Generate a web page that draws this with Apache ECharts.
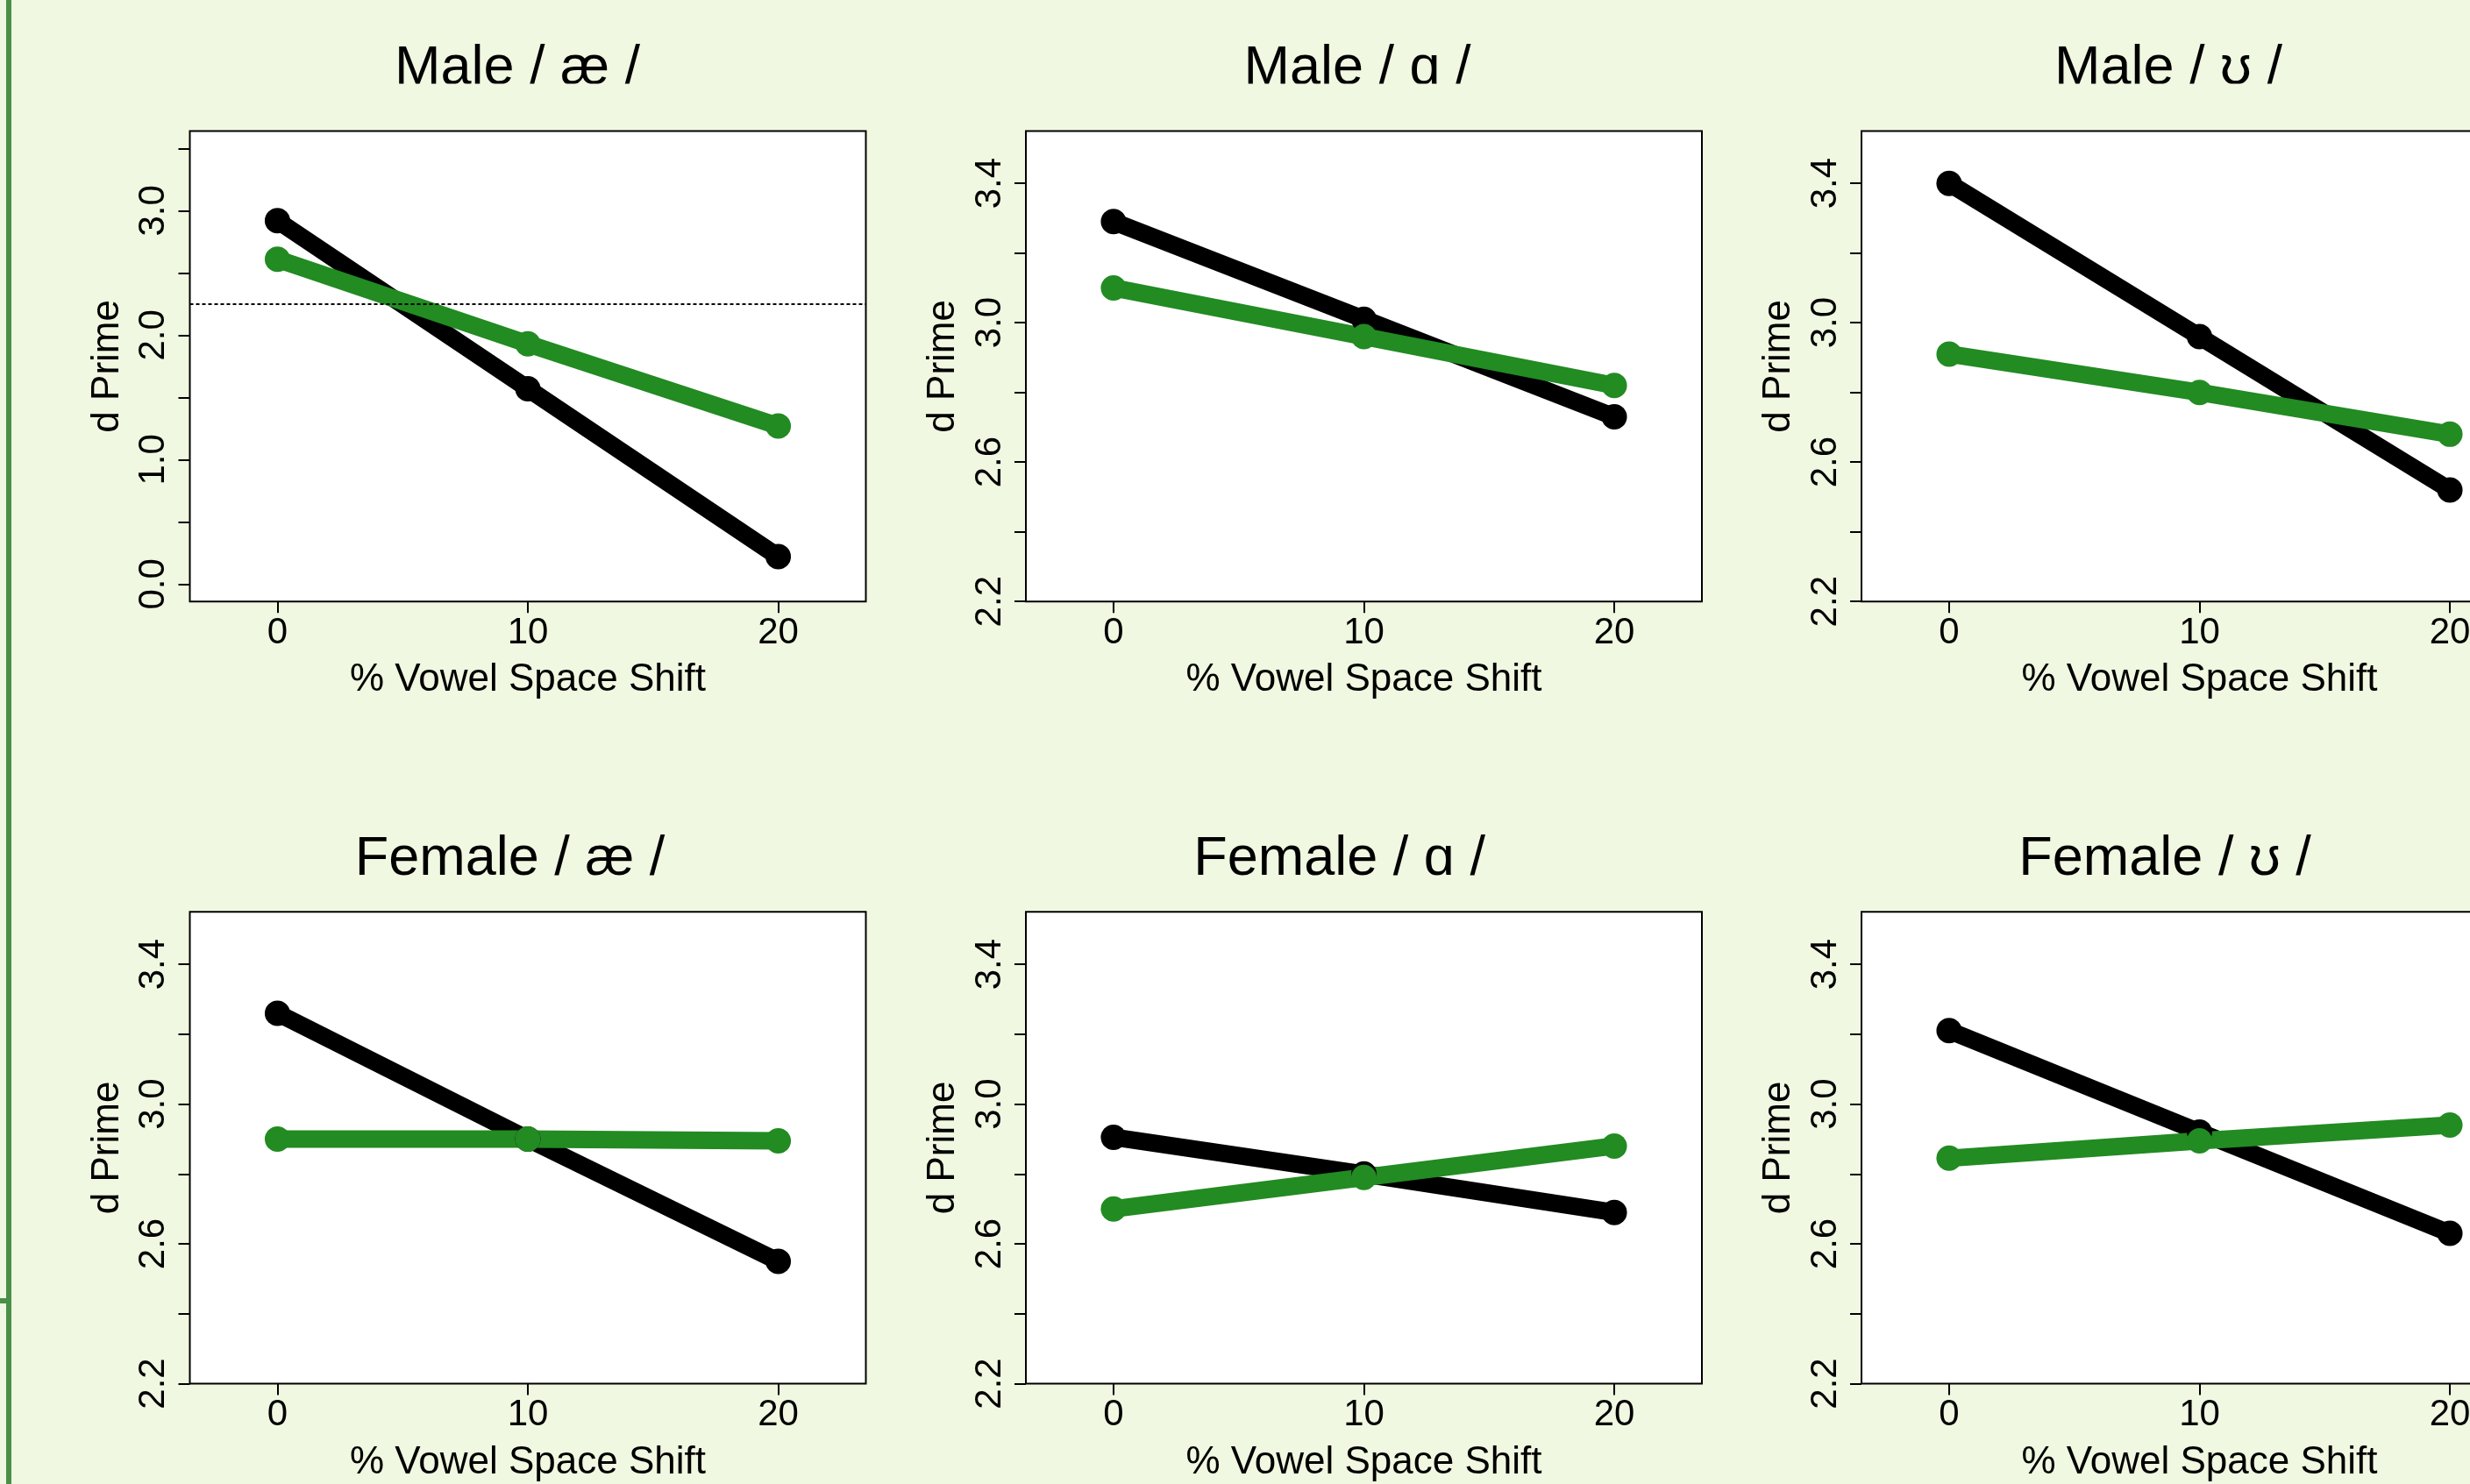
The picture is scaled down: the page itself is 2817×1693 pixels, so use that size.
<!DOCTYPE html>
<html>
<head>
<meta charset="utf-8">
<script src="https://cdn.jsdelivr.net/npm/echarts@6/dist/echarts.min.js"></script>
<style>
html,body{margin:0;padding:0;background:#F0F8E1;}
#c{width:2817px;height:1693px;}
</style>
</head>
<body>
<div id="c"></div>
<script>
// ---- data ----
const shifts = [0, 10, 20];
const titles = ['Male / æ /', 'Male / ɑ /', 'Male / ʊ /', 'Female / æ /', 'Female / ɑ /', 'Female / ʊ /'];
const maleAeBlack = [2.92, 1.57, 0.22];
const maleAeGreen = [2.61, 1.93, 1.27];
const maleAaBlack = [3.29, 3.01, 2.73];
const maleAaGreen = [3.10, 2.96, 2.82];
const maleUhBlack = [3.40, 2.96, 2.52];
const maleUhGreen = [2.91, 2.80, 2.68];
const femaleAeBlack = [3.26, 2.90, 2.55];
const femaleAeGreen = [2.90, 2.90, 2.895];
const femaleAaBlack = [2.905, 2.80, 2.69];
const femaleAaGreen = [2.70, 2.79, 2.88];
const femaleUhBlack = [3.21, 2.92, 2.63];
const femaleUhGreen = [2.845, 2.895, 2.94];
const referenceLine = 2.25; // dotted line, panel 1
const xTicks = [0, 10, 20];
const yTicksWide = [0, 0.5, 1, 1.5, 2, 2.5, 3, 3.5];
const yLabelsWide = [0, 1, 2, 3];
const yTicksNarrow = [2.2, 2.4, 2.6, 2.8, 3.0, 3.2, 3.4];
const yLabelsNarrow = [2.2, 2.6, 3.0, 3.4];

const blacks = [maleAeBlack, maleAaBlack, maleUhBlack, femaleAeBlack, femaleAaBlack, femaleUhBlack];
const greens = [maleAeGreen, maleAaGreen, maleUhGreen, femaleAeGreen, femaleAaGreen, femaleUhGreen];

// ---- layout ----
const FONT = 'Liberation Sans, Arial, sans-serif';
const colLeft = [216.5, 1170, 2123];
const colW = 771;
const rowTop = [149.5, 1040.3];
const rowH = [536.7, 538.2];
const titleX = [[585, 1543, 2468], [576.5, 1522.6, 2464]];
const titleTop = [42, 944];

const grids = [], xAxes = [], yAxes = [], series = [], titleList = [];
for (let i = 0; i < 6; i++) {
  const r = Math.floor(i / 3), c = i % 3;
  grids.push({
    left: colLeft[c], top: rowTop[r], width: colW, height: rowH[r],
    show: true, backgroundColor: '#ffffff', borderColor: '#000', borderWidth: 2,
    containLabel: false, outerBoundsMode: 'none'
  });
  xAxes.push({
    type: 'value', gridIndex: i, min: -3.5, max: 23.5, position: 'bottom',
    axisLine: {show: false, onZero: false},
    splitLine: {show: false},
    axisTick: {show: true, inside: false, length: 13, customValues: xTicks, lineStyle: {color: '#000', width: 2}},
    axisLabel: {customValues: xTicks, fontSize: 42, color: '#000', fontFamily: FONT, margin: 15},
    name: '% Vowel Space Shift', nameLocation: 'middle', nameGap: 68,
    nameTextStyle: {fontSize: 44, color: '#000', fontFamily: FONT}
  });
  const wide = (i === 0);
  yAxes.push({
    type: 'value', gridIndex: i, position: 'left',
    min: wide ? -0.14 : 2.2, max: wide ? 3.64 : 3.55,
    axisLine: {show: false, onZero: false},
    splitLine: {show: false},
    axisTick: {show: true, inside: false, length: 13, customValues: wide ? yTicksWide : yTicksNarrow, lineStyle: {color: '#000', width: 2}},
    axisLabel: {customValues: wide ? yLabelsWide : yLabelsNarrow, rotate: 90, fontSize: 42, color: '#000', fontFamily: FONT, margin: 20,
      formatter: v => Number(v).toFixed(1)},
    name: 'd Prime', nameLocation: 'middle', nameGap: 72, nameRotate: 90,
    nameTextStyle: {fontSize: 44, color: '#000', fontFamily: FONT}
  });
  const mk = (vals, color, extra) => Object.assign({
    type: 'line', xAxisIndex: i, yAxisIndex: i,
    data: shifts.map((x, k) => [x, vals[k]]),
    symbol: 'circle', symbolSize: 29, showSymbol: true,
    itemStyle: {color: color},
    lineStyle: {color: color, width: 20, cap: 'round', join: 'round'},
    emphasis: {disabled: true}, silent: true, animation: false
  }, extra || {});
  series.push(mk(blacks[i], '#000000'));
  series.push(mk(greens[i], '#228B22', wide ? {
    markLine: {
      silent: true, symbol: ['none', 'none'], animation: false,
      label: {show: false},
      lineStyle: {color: '#000', width: 2, type: [4, 3]},
      data: [{yAxis: referenceLine}]
    }
  } : {}));
  titleList.push({
    text: titles[i], left: titleX[r][c], top: titleTop[r], textAlign: 'center',
    textStyle: {fontSize: 63, fontWeight: 'normal', color: '#000', fontFamily: FONT}
  });
}

const chart = echarts.init(document.getElementById('c'), null, {renderer: 'canvas', width: 2817, height: 1693});
chart.setOption({
  backgroundColor: '#F0F8E1',
  animation: false,
  title: titleList,
  grid: grids,
  xAxis: xAxes,
  yAxis: yAxes,
  series: series,
  graphic: [
    {type: 'rect', z: 100, silent: true, shape: {x: 14, y: 95.5, width: 2803, height: 44}, style: {fill: '#F0F8E1'}},
    {type: 'rect', z: 101, silent: true, shape: {x: 7, y: 0, width: 6, height: 1693}, style: {fill: '#4A8F48'}},
    {type: 'rect', z: 101, silent: true, shape: {x: 0, y: 1481, width: 7, height: 6}, style: {fill: '#4A8F48'}}
  ]
});
</script>
</body>
</html>
